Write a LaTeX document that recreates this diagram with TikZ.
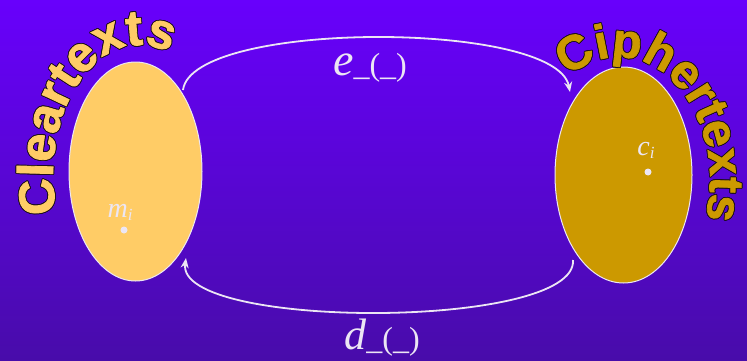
\documentclass[tikz,border=0pt]{standalone}
\usepackage{fontspec}
\setmainfont{Liberation Serif}
\newfontfamily\headfont{Liberation Sans}[BoldFont={* Bold}, BoldFeatures={FakeBold=1.6}]
\usepackage{contour}
\contourlength{0.8pt}
\usetikzlibrary{shapes.geometric,arrows.meta,decorations.text}
\definecolor{bgtop}{RGB}{104,0,252}
\definecolor{bgbot}{RGB}{72,12,170}
\definecolor{clearcol}{RGB}{255,204,102}
\definecolor{ciphcol}{RGB}{204,153,0}
\definecolor{labcol}{RGB}{236,230,244}
\definecolor{outl}{RGB}{30,15,30}
\newcommand{\outlinedchar}[1]{\contour{outl}{#1}}
\tikzset{
  x=1pt,y=1pt,
  setblob/.style={ellipse, draw=labcol, line width=1pt, inner sep=0pt},
  mapline/.style={draw=labcol, line width=1.8pt, -{Stealth[length=10pt,width=8pt]}},
  eltdot/.style={circle, fill=labcol, inner sep=0pt, minimum size=7pt},
  maplabel/.style={text=labcol, inner sep=0pt},
}
\begin{document}
\begin{tikzpicture}
\shade[top color=bgtop, bottom color=bgbot] (0,0) rectangle (747,360);
\useasboundingbox (0,0) rectangle (747,360);
% sets
\node[setblob, fill=clearcol, minimum width=133pt, minimum height=219pt] (clear) at (135.5,188.5) {};
\node[setblob, fill=ciphcol, minimum width=137pt, minimum height=216pt] (ciph) at (623.5,185) {};
% curved titles
\path[decorate, decoration={text effects along path, text={Cleartexts},
  text effects/.cd, text along path,
  characters={text=clearcol, font=\headfont\bfseries\fontsize{50}{50}\selectfont},
  character command=\outlinedchar}]
  (140,185) ++(197:87 and 130) arc[start angle=197, end angle=40, x radius=87, y radius=130];
\path[decorate, decoration={text effects along path, text={Ciphertexts},
  text effects/.cd, text along path,
  characters={text=ciphcol, font=\headfont\bfseries\fontsize{48}{48}\selectfont},
  character command=\outlinedchar}]
  (618,180) ++(123:92 and 123) arc[start angle=123, end angle=-40, x radius=92, y radius=123];
% elements
\node[maplabel] (mlbl) at (120,148) {\fontsize{28}{28}\selectfont\itshape m\raisebox{-3pt}{\fontsize{17}{17}\selectfont i}};
\node[eltdot] (mdot) at (124,130) {};
\node[maplabel] (clbl) at (646,210) {\fontsize{28}{28}\selectfont\itshape c\raisebox{-3pt}{\fontsize{17}{17}\selectfont i}};
\node[eltdot] (cdot) at (648,188) {};
% maps
\coordinate (estart) at (183,270);
\coordinate (eend) at (570,268);
\coordinate (dstart) at (573,100);
\coordinate (dend) at (186,102);
\draw[mapline] (estart) .. controls (192,340) and (556,340) .. (eend);
\draw[mapline] (dstart) .. controls (578,30) and (176,30) .. (dend);
\node[maplabel] (elbl) at (370,292) {{\fontsize{46}{46}\selectfont\itshape e}{\fontsize{32}{32}\selectfont\_(\_)}};
\node[maplabel] (dlbl) at (382,22) {{\fontsize{44}{44}\selectfont\itshape d}{\fontsize{32}{32}\selectfont\_(\_)}};
\end{tikzpicture}
\end{document}
